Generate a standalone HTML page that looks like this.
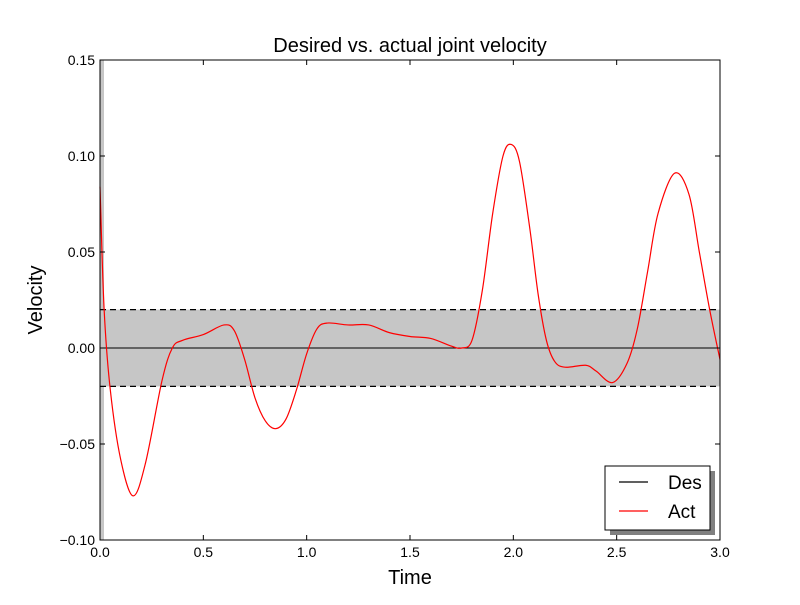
<!DOCTYPE html>
<html><head><meta charset="utf-8"><style>
body{margin:0;background:#fff}
svg text{font-family:"Liberation Sans",sans-serif}
</style></head><body>
<svg id="chart" width="800" height="600">
<rect width="800" height="600" fill="#fff"/>
<g id="plot"></g>
</svg>
<script>
const times=[0,0.02,0.05,0.1,0.16,0.22,0.3,0.35,0.4,0.5,0.6,0.65,0.7,0.75,0.8,0.85,0.9,0.95,1.0,1.05,1.1,1.2,1.3,1.4,1.5,1.6,1.7,1.75,1.8,1.85,1.9,1.95,1.99,2.03,2.08,2.12,2.16,2.2,2.25,2.35,2.4,2.48,2.55,2.6,2.65,2.7,2.78,2.85,2.9,2.95,3.0];
const actual=[0.084,0.02,-0.022,-0.058,-0.077,-0.06,-0.017,0.0,0.004,0.007,0.012,0.009,-0.006,-0.026,-0.038,-0.042,-0.037,-0.022,-0.003,0.01,0.013,0.012,0.012,0.008,0.006,0.005,0.001,0.0,0.004,0.03,0.07,0.1,0.106,0.097,0.062,0.028,0.004,-0.007,-0.01,-0.009,-0.012,-0.018,-0.008,0.01,0.04,0.07,0.091,0.08,0.05,0.02,-0.006];
const desired=[0,0];
const desTimes=[0,3];
const tolerance=0.02;
const xTicks=[0,0.5,1.0,1.5,2.0,2.5,3.0];
const xTickLabels=["0.0","0.5","1.0","1.5","2.0","2.5","3.0"];
const yTicks=[-0.10,-0.05,0.00,0.05,0.10,0.15];
const yTickLabels=["\u22120.10","\u22120.05","0.00","0.05","0.10","0.15"];

const L=100,R=720,T=60,B=540;
const xs=v=>L+(v-0)/(3-0)*(R-L);
const ys=v=>B-(v+0.10)/(0.25)*(B-T);
const NS="http://www.w3.org/2000/svg";
const g=document.getElementById('plot');
function mk(tag,attrs,parent){const e=document.createElementNS(NS,tag);for(const k in attrs)e.setAttribute(k,attrs[k]);(parent||g).appendChild(e);return e;}

let e;
e=mk('rect',{x:L,y:ys(tolerance),width:R-L,height:ys(-tolerance)-ys(tolerance),fill:'#c6c6c6'});


e=mk('rect',{x:L,y:T,width:4,height:B-T,fill:'#c6c6c6'});


e=mk('line',{x1:L,x2:R,y1:ys(tolerance),y2:ys(tolerance),stroke:'#000','stroke-dasharray':'6,4','stroke-width':1.2});


e=mk('line',{x1:L,x2:R,y1:ys(-tolerance),y2:ys(-tolerance),stroke:'#000','stroke-dasharray':'6,4','stroke-width':1.2});


e=mk('line',{x1:xs(desTimes[0]),x2:xs(desTimes[1]),y1:ys(desired[0]),y2:ys(desired[1]),stroke:'#000','stroke-width':1});



const pts=times.map((t,i)=>[xs(t),ys(actual[i])]);
let d='M'+pts[0][0]+','+pts[0][1];
for(let i=0;i<pts.length-1;i++){
  const p0=pts[Math.max(0,i-1)],p1=pts[i],p2=pts[i+1],p3=pts[Math.min(pts.length-1,i+2)];
  const c1=[p1[0]+(p2[0]-p0[0])/6,p1[1]+(p2[1]-p0[1])/6];
  const c2=[p2[0]-(p3[0]-p1[0])/6,p2[1]-(p3[1]-p1[1])/6];
  d+=` C${c1[0]},${c1[1]} ${c2[0]},${c2[1]} ${p2[0]},${p2[1]}`;
}
e=mk('path',{d:d,fill:'none',stroke:'#ff0000','stroke-width':1.2});



e=mk('rect',{x:L,y:T,width:R-L,height:B-T,fill:'none',stroke:'#000','stroke-width':1});



xTicks.forEach((v,i)=>{
  let t=mk('line',{x1:xs(v),x2:xs(v),y1:B,y2:B-5,stroke:'#000'});
  
  
  t=mk('line',{x1:xs(v),x2:xs(v),y1:T,y2:T+5,stroke:'#000'});
  
  
  t=mk('text',{x:xs(v),y:B+17,'text-anchor':'middle','font-size':14});
  t.textContent=xTickLabels[i];
  
  
});
yTicks.forEach((v,i)=>{
  let t=mk('line',{x1:L,x2:L+5,y1:ys(v),y2:ys(v),stroke:'#000'});
  
  
  t=mk('line',{x1:R,x2:R-5,y1:ys(v),y2:ys(v),stroke:'#000'});
  
  
  t=mk('text',{x:L-5,y:ys(v)+5,'text-anchor':'end','font-size':14});
  t.textContent=yTickLabels[i];
  
  
});
e=mk('text',{x:410,y:52,'text-anchor':'middle','font-size':20});
e.textContent='Desired vs. actual joint velocity';


e=mk('text',{x:410,y:584,'text-anchor':'middle','font-size':20});
e.textContent='Time';


e=mk('text',{x:42,y:300,'text-anchor':'middle','font-size':20,transform:'rotate(-90 42 300)'});


e.textContent='Velocity';

const lg=mk('g',{});


mk('rect',{x:610,y:471,width:105,height:64,fill:'#808080'},lg);
mk('rect',{x:605,y:466,width:105,height:64,fill:'#fff',stroke:'#000'},lg);
const names=['Des','Act'],cols=['#000','#ff0000'];
names.forEach((n,i)=>{
  const y=482+i*29;
  const en=mk('g',{},lg);
  
  
  mk('line',{x1:619,x2:648,y1:y,y2:y,stroke:cols[i],'stroke-width':1.2},en);
  const t=mk('text',{x:668,y:y+7,'font-size':19},en);
  t.textContent=n;
});
</script>
</body></html>
